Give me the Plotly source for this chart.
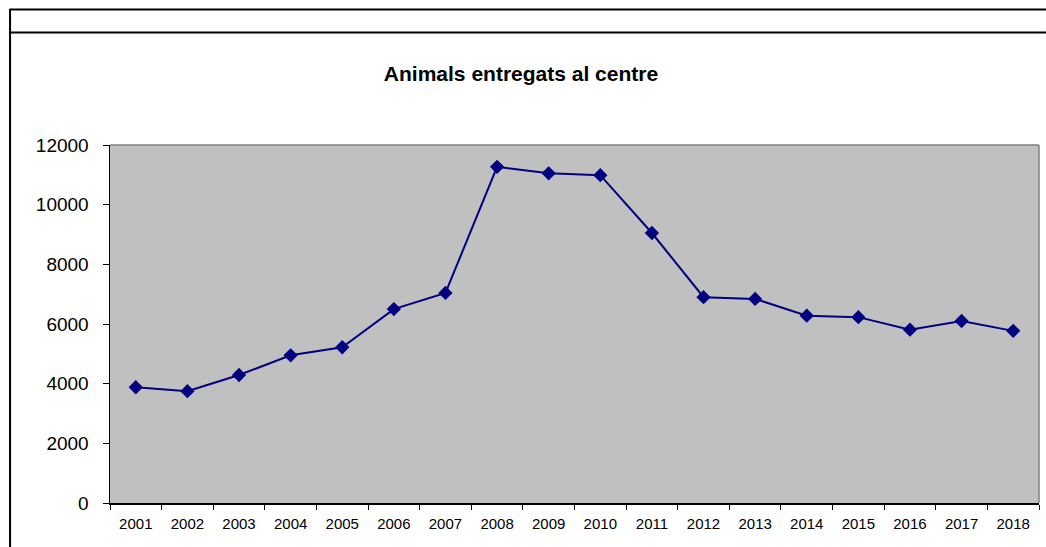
import plotly.graph_objects as go

years = ["2001", "2002", "2003", "2004", "2005", "2006", "2007", "2008", "2009",
         "2010", "2011", "2012", "2013", "2014", "2015", "2016", "2017", "2018"]
animals = [3880, 3750, 4290, 4950, 5220, 6500, 7040, 11270, 11050,
           10990, 9050, 6900, 6840, 6280, 6230, 5810, 6100, 5770]
y_ticks = [0, 2000, 4000, 6000, 8000, 10000, 12000]
y_tick_labels = ["0", "2000", "4000", "6000", "8000", "10000", "12000"]
title_text = "Animals entregats al centre"

W, H = 1046, 547
L, R, T, B = 109.5, 1039, 145, 503


def px_x(px):
    return (px - L) / (R - L)


def px_y(py):
    return (B - py) / (B - T)


fig = go.Figure()
fig.add_trace(go.Scatter(
    x=years, y=animals, mode="lines+markers",
    line=dict(color="#000080", width=2),
    marker=dict(symbol="diamond", size=11, color="#000080"),
    showlegend=False,
))

shapes = [
    # outer frame lines
    dict(type="line", xref="paper", yref="paper", x0=px_x(9), x1=px_x(1046),
         y0=px_y(9.5), y1=px_y(9.5), line=dict(color="black", width=2)),
    dict(type="line", xref="paper", yref="paper", x0=px_x(9), x1=px_x(1046),
         y0=px_y(32.5), y1=px_y(32.5), line=dict(color="black", width=2)),
    dict(type="line", xref="paper", yref="paper", x0=px_x(9.5), x1=px_x(9.5),
         y0=px_y(9), y1=px_y(547), line=dict(color="black", width=2)),
    # plot area top/right gray border
    dict(type="line", xref="paper", yref="paper", x0=0, x1=1, y0=1, y1=1,
         line=dict(color="#808080", width=1.5)),
    dict(type="line", xref="paper", yref="paper", x0=1, x1=1, y0=0, y1=1,
         line=dict(color="#808080", width=1.5)),
]

fig.update_layout(
    width=W, height=H,
    margin=dict(l=L, r=W - R, t=T, b=H - B, pad=0),
    paper_bgcolor="white",
    plot_bgcolor="#C0C0C0",
    dragmode=False,
    font=dict(family="Arial, Liberation Sans, sans-serif", color="black"),
    title=dict(text="<b>" + title_text + "</b>", x=521 / W, xref="container",
               xanchor="center",
               y=1 - 74 / H, yanchor="middle",
               font=dict(size=21, color="black")),
    shapes=shapes,
    xaxis=dict(
        type="category", range=[-0.5, 17.5],
        showgrid=False, zeroline=False,
        showline=True, linecolor="black", linewidth=1.5,
        ticks="outside", tickson="boundaries", ticklen=5, tickcolor="black",
        tickfont=dict(size=15), ticklabelstandoff=6, fixedrange=True,
    ),
    yaxis=dict(
        range=[0, 12000], tickvals=y_ticks, ticktext=y_tick_labels,
        showgrid=False, zeroline=False,
        showline=True, linecolor="black", linewidth=1.5,
        ticks="outside", ticklen=6, tickcolor="black",
        tickfont=dict(size=19), ticklabelstandoff=10, fixedrange=True,
    ),
)

fig.write_html(
    "out.html", config={"displayModeBar": False, "staticPlot": True},
    post_script=("document.body.style.margin='0';document.body.style.padding='0';"
                 "document.body.style.overflow='hidden';"
                 "document.documentElement.style.overflow='hidden';"))
